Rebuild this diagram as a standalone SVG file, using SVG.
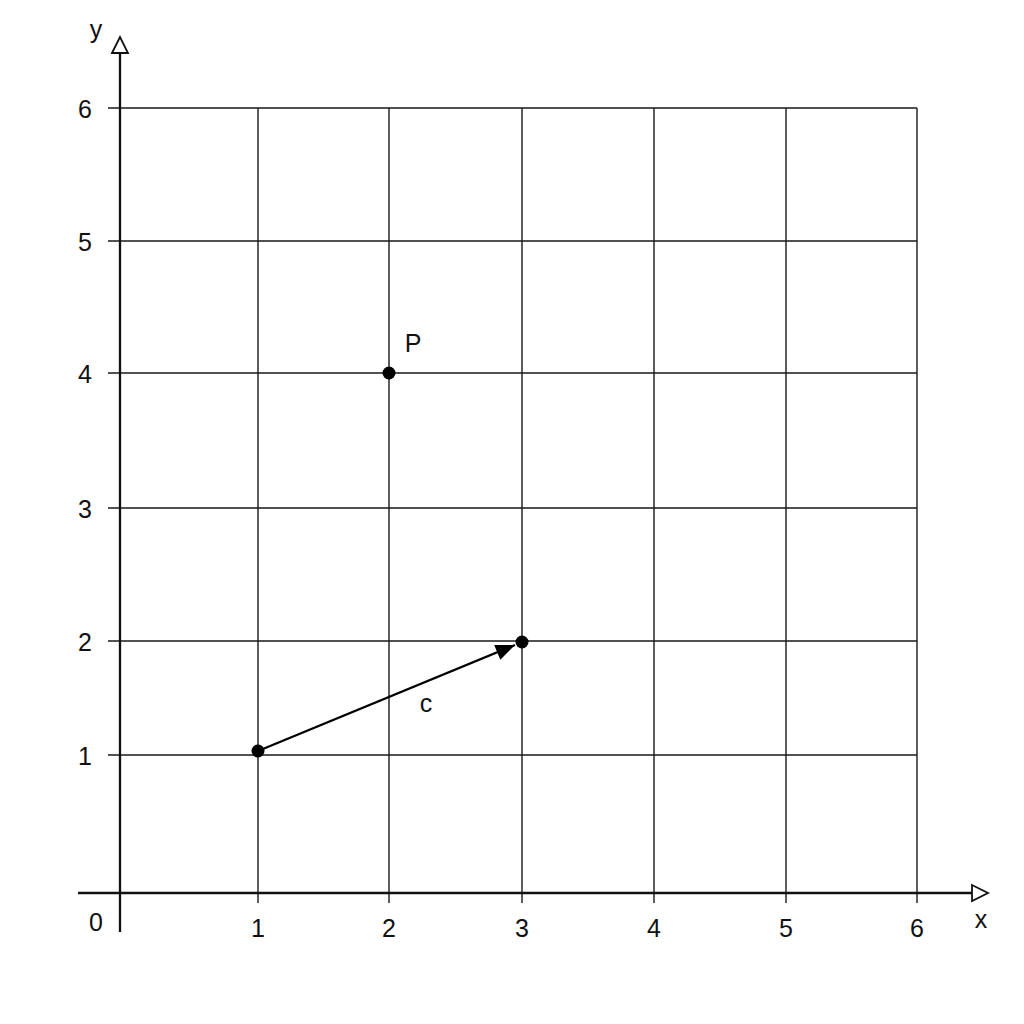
<svg xmlns="http://www.w3.org/2000/svg" width="1024" height="1024" viewBox="0 0 1024 1024">
<style>
.grid{stroke:#1a1a1a;stroke-width:1.4;fill:none}
.axis{stroke:#111;stroke-width:2.3;fill:none}
.lbl{font-family:"Liberation Sans",Arial,sans-serif;font-size:25px;fill:#111;text-anchor:middle}
.dot{fill:#000}
</style>
<defs>
<marker id="vec" viewBox="0 0 12 10" refX="12" refY="5" markerWidth="20" markerHeight="16" markerUnits="userSpaceOnUse" orient="auto">
<path d="M0,0 L12,5 L0,10 z" fill="#000"/>
</marker>
</defs>
<rect width="1024" height="1024" fill="#fff"/>
<g id="grid">
<path class="grid" d="M258,108V903 M389,108V903 M522,108V903 M654,108V903 M786,108V903 M917,108V903"/>
<path class="grid" d="M108,108H917 M108,241H917 M108,373H917 M108,508H917 M108,641H917 M108,755H917"/>
</g>
<g id="axes">
<path class="axis" d="M120,932V53"/>
<path d="M112,53 L120,37 L128,53 z" fill="#fff" stroke="#111" stroke-width="1.8"/>
<path class="axis" d="M78,893H972"/>
<path d="M972,885 L988,893 L972,901 z" fill="#fff" stroke="#111" stroke-width="1.8"/>
<text class="lbl" x="96" y="38">y</text>
<text class="lbl" x="981" y="928">x</text>
<text class="lbl" x="96" y="931">0</text>
</g>
<g id="ticks">
<text class="lbl" x="85" y="118">6</text>
<text class="lbl" x="85" y="251">5</text>
<text class="lbl" x="85" y="383">4</text>
<text class="lbl" x="85" y="518">3</text>
<text class="lbl" x="85" y="651">2</text>
<text class="lbl" x="85" y="765">1</text>
<text class="lbl" x="258" y="937">1</text>
<text class="lbl" x="389" y="937">2</text>
<text class="lbl" x="522" y="937">3</text>
<text class="lbl" x="654" y="937">4</text>
<text class="lbl" x="786" y="937">5</text>
<text class="lbl" x="917" y="937">6</text>
</g>
<g id="connectors">
<line x1="258" y1="751" x2="515" y2="645" stroke="#000" stroke-width="2.2" marker-end="url(#vec)"/>
</g>
<g id="pointA"><circle class="dot" cx="258" cy="751" r="6.5"/></g>
<g id="pointB"><circle class="dot" cx="522" cy="642" r="6.5"/></g>
<g id="pointP"><circle class="dot" cx="389" cy="373" r="6.5"/><text class="lbl" x="413" y="352">P</text></g>
<g id="labelC"><text class="lbl" x="426" y="712">c</text></g>
</svg>
